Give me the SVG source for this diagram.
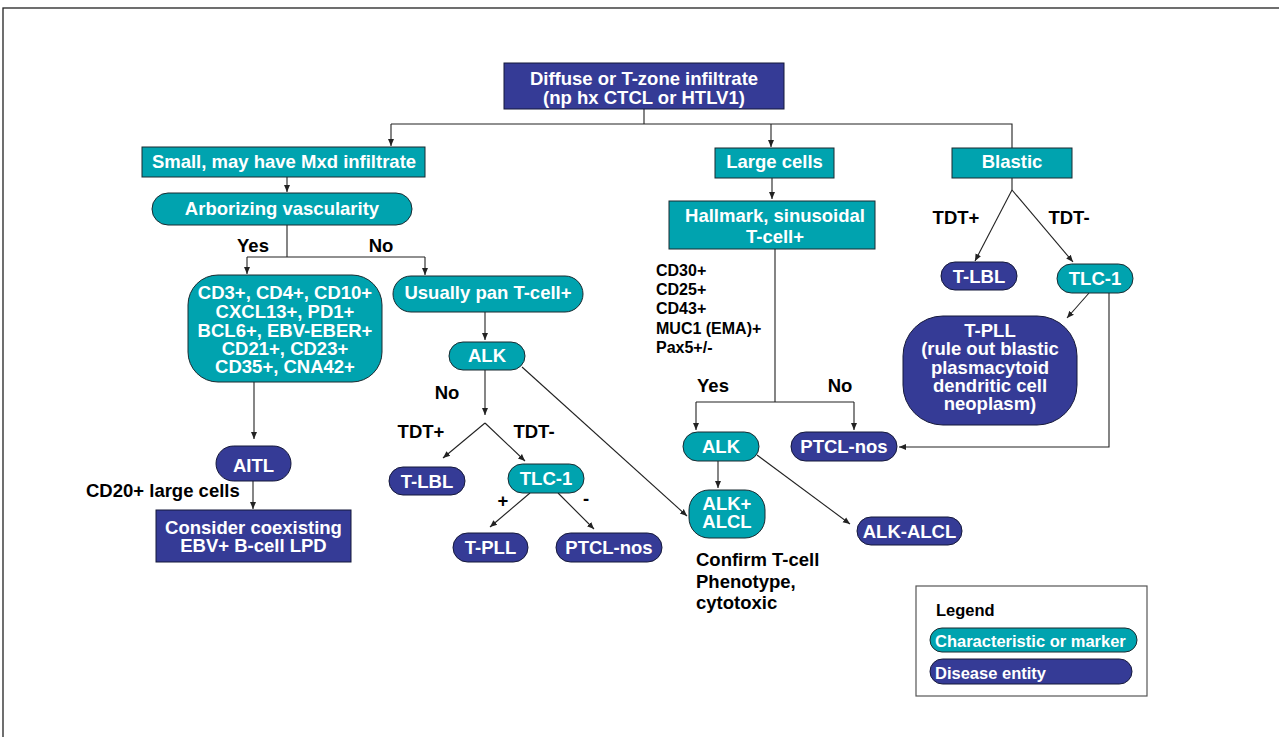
<svg xmlns="http://www.w3.org/2000/svg" width="1279" height="737" viewBox="0 0 1279 737">
<defs>
<style>
.t{fill:#00A3AF;stroke:#1a2a30;stroke-width:1}
.d{fill:#353B96;stroke:#15183a;stroke-width:1}
.w{fill:#fff;font-family:"Liberation Sans",Arial,sans-serif;font-weight:bold;font-size:18.5px;text-anchor:middle}
.k{fill:#000;font-family:"Liberation Sans",Arial,sans-serif;font-weight:bold;font-size:18.5px}
.m{fill:#000;font-family:"Liberation Sans",Arial,sans-serif;font-weight:bold;font-size:16px}
.c{fill:none;stroke:#222;stroke-width:1.1}
.ca{fill:none;stroke:#222;stroke-width:1.1;marker-end:url(#ah)}
</style>
<marker id="ah" markerUnits="userSpaceOnUse" markerWidth="8" markerHeight="8" viewBox="0 0 8 8" refX="7" refY="4" orient="auto">
<path d="M0,1 L7,4 L0,7 Z" fill="#222"/>
</marker>
</defs>
<rect width="1279" height="737" fill="#fff"/>
<rect x="3" y="8" width="1290" height="740" fill="none" stroke="#222" stroke-width="1.3"/>

<g id="connectors">
<path class="c" d="M644,109 V124 M391,124 H1012 V148"/>
<path class="ca" d="M391,124 V146"/>
<path class="ca" d="M771,124 V147"/>
<path class="ca" d="M287,177 V192"/>
<path class="c" d="M287,225 V257 M247,257 H425"/>
<path class="ca" d="M247,257 V274"/>
<path class="ca" d="M425,257 V275"/>
<path class="ca" d="M254,382 V439"/>
<path class="ca" d="M253,481 V509"/>
<path class="ca" d="M485,312 V340"/>
<path class="ca" d="M485,370 V415"/>
<path class="ca" d="M485,423 L443,458"/>
<path class="ca" d="M485,423 L525,461"/>
<path class="ca" d="M530,493 L490,527"/>
<path class="ca" d="M558,493 L594,529"/>
<path class="ca" d="M522,367 L687,516"/>
<path class="ca" d="M772,178 V199"/>
<path class="c" d="M775,249 V402 M696,402 H854"/>
<path class="ca" d="M696,402 V430"/>
<path class="ca" d="M854,402 V430"/>
<path class="ca" d="M718,461 V488"/>
<path class="ca" d="M757,455 L850,524"/>
<path class="c" d="M1012,178 V190"/>
<path class="ca" d="M1012,190 L975,261"/>
<path class="ca" d="M1012,190 L1073,262"/>
<path class="ca" d="M1089,293 L1067,318"/>
<path class="ca" d="M1109,293 V447 H899"/>
</g>

<g id="n-root"><rect class="d" x="504" y="63" width="280" height="46"/><text class="w" x="644" y="85">Diffuse or T-zone infiltrate</text><text class="w" x="644" y="104">(np hx CTCL or HTLV1)</text></g>

<g id="n-small"><rect class="t" x="142" y="147" width="283" height="30"/><text class="w" x="284" y="168">Small, may have Mxd infiltrate</text></g>
<g id="n-arbor"><rect class="t" x="152" y="193" width="260" height="32" rx="16"/><text class="w" x="282" y="215">Arborizing vascularity</text></g>
<text class="k" x="253" y="252" text-anchor="middle">Yes</text>
<text class="k" x="381" y="252" text-anchor="middle">No</text>
<g id="n-cd"><rect class="t" x="188" y="275" width="194" height="107" rx="30"/>
<text class="w" x="285" y="299">CD3+, CD4+, CD10+</text>
<text class="w" x="285" y="318">CXCL13+, PD1+</text>
<text class="w" x="285" y="337">BCL6+, EBV-EBER+</text>
<text class="w" x="285" y="355">CD21+, CD23+</text>
<text class="w" x="285" y="373">CD35+, CNA42+</text></g>
<g id="n-aitl"><rect class="d" x="216" y="446" width="75" height="35" rx="17.5"/><text class="w" x="253.5" y="472">AITL</text></g>
<text class="k" x="86" y="497">CD20+ large cells</text>
<g id="n-consider"><rect class="d" x="156" y="510" width="195" height="52"/><text class="w" x="253.5" y="534">Consider coexisting</text><text class="w" x="253.5" y="552">EBV+ B-cell LPD</text></g>

<g id="n-pan"><rect class="t" x="393" y="276" width="190" height="36" rx="18"/><text class="w" x="488" y="299">Usually pan T-cell+</text></g>
<g id="n-alk1"><rect class="t" x="449" y="342" width="76" height="28" rx="14"/><text class="w" x="487" y="362">ALK</text></g>
<text class="k" x="447" y="399" text-anchor="middle">No</text>
<text class="k" x="421" y="438" text-anchor="middle">TDT+</text>
<text class="k" x="534" y="438" text-anchor="middle">TDT-</text>
<g id="n-tlbl1"><rect class="d" x="389" y="467" width="76" height="28" rx="14"/><text class="w" x="427" y="488">T-LBL</text></g>
<g id="n-tlc1"><rect class="t" x="508" y="464" width="76" height="29" rx="14.5"/><text class="w" x="546" y="485">TLC-1</text></g>
<text class="k" x="503" y="507" text-anchor="middle">+</text>
<text class="k" x="586" y="505" text-anchor="middle">-</text>
<g id="n-tpll1"><rect class="d" x="453" y="533" width="75" height="29" rx="14.5"/><text class="w" x="490.5" y="554">T-PLL</text></g>
<g id="n-ptcl1"><rect class="d" x="556" y="533" width="106" height="29" rx="14.5"/><text class="w" x="609" y="554">PTCL-nos</text></g>

<g id="n-large"><rect class="t" x="715" y="148" width="119" height="30"/><text class="w" x="774.5" y="168">Large cells</text></g>
<g id="n-hallmark"><rect class="t" x="669" y="201" width="206" height="48"/><text class="w" x="775" y="222">Hallmark, sinusoidal</text><text class="w" x="775" y="243">T-cell+</text></g>
<g id="markers">
<text class="m" x="656" y="276">CD30+</text>
<text class="m" x="656" y="295">CD25+</text>
<text class="m" x="656" y="314">CD43+</text>
<text class="m" x="656" y="334">MUC1 (EMA)+</text>
<text class="m" x="656" y="353">Pax5+/-</text></g>
<text class="k" x="713" y="392" text-anchor="middle">Yes</text>
<text class="k" x="840" y="392" text-anchor="middle">No</text>
<g id="n-alk2"><rect class="t" x="683" y="432" width="76" height="29" rx="14.5"/><text class="w" x="721" y="453">ALK</text></g>
<g id="n-ptcl2"><rect class="d" x="791" y="432" width="106" height="29" rx="14.5"/><text class="w" x="844" y="453">PTCL-nos</text></g>
<g id="n-alkpos"><rect class="t" x="689" y="490" width="76" height="48" rx="20"/><text class="w" x="727" y="510">ALK+</text><text class="w" x="727" y="528">ALCL</text></g>
<g id="n-alkneg"><rect class="d" x="857" y="517" width="105" height="28" rx="14"/><text class="w" x="909.5" y="538">ALK-ALCL</text></g>
<text class="k" x="696" y="566">Confirm T-cell</text>
<text class="k" x="696" y="588">Phenotype,</text>
<text class="k" x="696" y="609">cytotoxic</text>

<g id="n-blastic"><rect class="t" x="952" y="148" width="120" height="30"/><text class="w" x="1012" y="168">Blastic</text></g>
<text class="k" x="956" y="224" text-anchor="middle">TDT+</text>
<text class="k" x="1069" y="224" text-anchor="middle">TDT-</text>
<g id="n-tlbl2"><rect class="d" x="941" y="262" width="76" height="28" rx="14"/><text class="w" x="979" y="283">T-LBL</text></g>
<g id="n-tlc2"><rect class="t" x="1057" y="264" width="76" height="29" rx="14.5"/><text class="w" x="1095" y="285">TLC-1</text></g>
<g id="n-tpll2"><rect class="d" x="903" y="316" width="174" height="109" rx="40"/>
<text class="w" x="990" y="337">T-PLL</text>
<text class="w" x="990" y="355">(rule out blastic</text>
<text class="w" x="990" y="374">plasmacytoid</text>
<text class="w" x="990" y="392">dendritic cell</text>
<text class="w" x="990" y="410">neoplasm)</text></g>

<g id="legend"><rect x="916" y="586" width="231" height="110" fill="#fff" stroke="#555" stroke-width="1.2"/>
<text x="936" y="616" style="fill:#000;font-family:'Liberation Sans',Arial,sans-serif;font-weight:bold;font-size:16.5px">Legend</text>
<rect class="t" x="930" y="628" width="207" height="24" rx="12"/>
<text x="935" y="647" style="fill:#fff;font-family:'Liberation Sans',Arial,sans-serif;font-weight:bold;font-size:16.5px">Characteristic or marker</text>
<rect class="d" x="930" y="659" width="202" height="25" rx="12.5"/>
<text x="935" y="679" style="fill:#fff;font-family:'Liberation Sans',Arial,sans-serif;font-weight:bold;font-size:16.5px">Disease entity</text></g>
</svg>
